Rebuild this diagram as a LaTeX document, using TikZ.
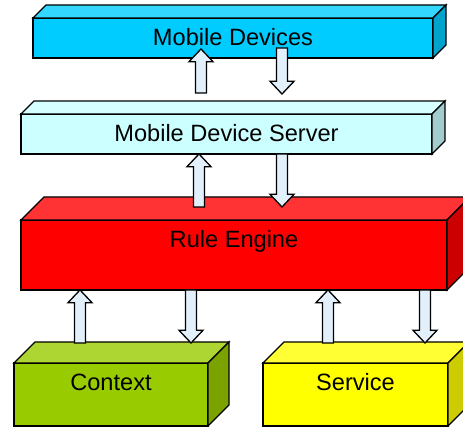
\documentclass[tikz,border=0pt]{standalone}
\usepackage{fontspec}
\setmainfont{Liberation Sans}
\usepackage{tikz}
\usetikzlibrary{calc}

\definecolor{mdfront}{HTML}{00CCFF}
\definecolor{mdtop}{HTML}{33D6FF}
\definecolor{mdside}{HTML}{00A3CC}
\definecolor{srvfront}{HTML}{CCFFFF}
\definecolor{srvtop}{HTML}{D6FFFF}
\definecolor{srvside}{HTML}{A3CCCC}
\definecolor{rulefront}{HTML}{FF0000}
\definecolor{ruletop}{HTML}{FF3333}
\definecolor{ruleside}{HTML}{CC0000}
\definecolor{ctxfront}{HTML}{99CC00}
\definecolor{ctxtop}{HTML}{ADD633}
\definecolor{ctxside}{HTML}{7AA300}
\definecolor{svcfront}{HTML}{FFFF00}
\definecolor{svctop}{HTML}{FFFF33}
\definecolor{svcside}{HTML}{CCCC00}
\definecolor{flowblue}{HTML}{E2F0FC}

\tikzstyle{layer} = [draw=black, line width=1.3pt, inner sep=0pt, outer sep=0pt, text height=27.5pt, font=\fontsize{23.6}{28}\selectfont]
\tikzstyle{face} = [draw=black, line width=1.3pt]
\tikzstyle{flow} = [draw=black, line width=1.3pt, fill=flowblue]

% top and right faces of a box: node, depth, top colour, side colour
\newcommand{\cuboid}[4]{%
  \draw[face, fill=#3] (#1.north west) -- ++(#2,#2) -- ($(#1.north east)+(#2,#2)$) -- (#1.north east) -- cycle;
  \draw[face, fill=#4] (#1.north east) -- ++(#2,#2) -- ($(#1.south east)+(#2,#2)$) -- (#1.south east) -- cycle;}

% block arrow at x = #1, from the height of #2 to the height of #3
\newcommand{\link}[3]{%
  \draw[flow] let \p1=(#2), \p2=(#3), \n1={sign(\y2-\y1)*12.7} in
    (#1-5.5,\y1) -- (#1-5.5,\y2-\n1) -- (#1-12,\y2-\n1) -- (#1,\y2)
    -- (#1+12,\y2-\n1) -- (#1+5.5,\y2-\n1) -- (#1+5.5,\y1) -- cycle;}

\begin{document}
\begin{tikzpicture}[x=1pt, y=1pt]
    \useasboundingbox (0,0) rectangle (463,427);

    \node[layer, fill=mdfront, minimum width=400pt, text depth=12.5pt] (md) at (233,389) {Mobile Devices};
    \cuboid{md}{13}{mdtop}{mdside}

    \node[layer, fill=srvfront, minimum width=411pt, text depth=12.5pt] (mds) at (226.5,293) {Mobile Device Server};
    \cuboid{mds}{13}{srvtop}{srvside}

    \node[layer, fill=rulefront, minimum width=426pt, text depth=42.5pt] (re) at (234,172) {Rule Engine};
    \cuboid{re}{23}{ruletop}{ruleside}

    \node[layer, fill=ctxfront, minimum width=194pt, text depth=35.5pt] (context) at (111,32.5) {Context};
    \cuboid{context}{21}{ctxtop}{ctxside}

    \node[layer, fill=svcfront, minimum width=185pt, text depth=35.5pt] (service) at (355.5,32.5) {Service};
    \cuboid{service}{21}{svctop}{svcside}

    % requests up, answers down
    \link{201}{$(mds.north)+(0,21)$}{$(md.south)+(0,9)$}
    \link{282}{$(md.south)+(0,10)$}{$(mds.north)+(0,20)$}
    \link{199}{$(re.north)+(0,13)$}{mds.south}
    \link{282}{mds.south}{$(re.north)+(0,13)$}
    \link{80}{$(context.north)+(0,20)$}{re.south}
    \link{191}{re.south}{$(context.north)+(0,20)$}
    \link{328}{$(service.north)+(0,20)$}{re.south}
    \link{425}{re.south}{$(service.north)+(0,20)$}
\end{tikzpicture}
\end{document}
